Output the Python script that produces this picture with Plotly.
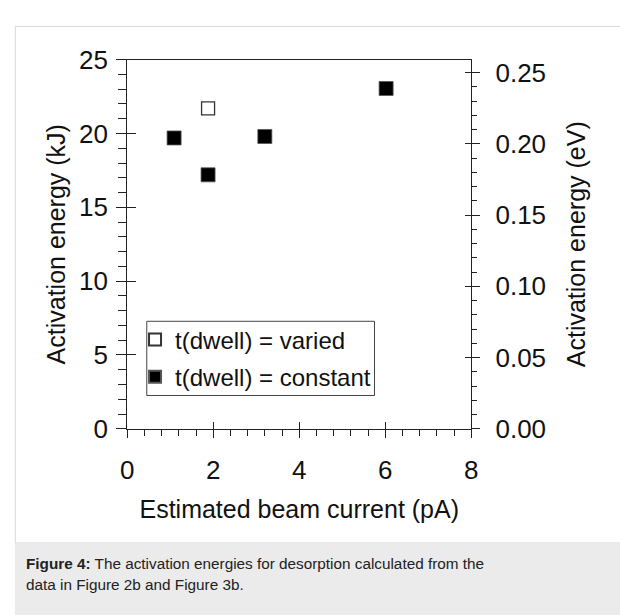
import plotly.graph_objects as go

# ---- data ----
varied_current = [1.88]
varied_energy = [21.7]
constant_current = [1.09, 1.88, 3.2, 6.02]
constant_energy = [19.7, 17.2, 19.8, 23.05]

x_ticks = [0, 2, 4, 6, 8]
left_ticks = [0, 5, 10, 15, 20, 25]
right_ticks = [0.00, 0.05, 0.10, 0.15, 0.20, 0.25]

W, H = 620, 615
KJ_PER_EV = 96.485
FONT = "Liberation Sans, Arial, sans-serif"
AX = "#222222"
TXT = "#111111"

L, R, T, B = 123, 475, 47, 435
xd = [L / W, R / W]
yd = [(H - B) / H, (H - T) / H]


def px(v):
    return v / W


def py(v):
    return (H - v) / H


fig = go.Figure()
fig.add_trace(go.Scatter(
    x=varied_current, y=varied_energy, mode="markers", name="t(dwell) = varied",
    legendgroup="a",
    marker=dict(symbol="square", size=13, color="white", line=dict(color="#333333", width=1.3)),
))
fig.add_trace(go.Scatter(
    x=constant_current, y=constant_energy, mode="markers", name="t(dwell) = constant",
    legendgroup="b",
    marker=dict(symbol="square", size=14, color="black", line=dict(color="#555555", width=0.8)),
))
# empty helpers so the tick-only overlay axes render
fig.add_trace(go.Scatter(x=[], y=[], xaxis="x2", yaxis="y3", showlegend=False))
fig.add_trace(go.Scatter(x=[], y=[], xaxis="x", yaxis="y2", showlegend=False))
fig.add_trace(go.Scatter(x=[], y=[], xaxis="x", yaxis="y4", showlegend=False))

tickfont = dict(family=FONT, size=26, color=TXT)
titlefont = dict(family=FONT, size=25, color=TXT)
common = dict(showgrid=False, zeroline=False, tickwidth=1, tickcolor=AX)

fig.update_layout(
    width=W, height=H,
    margin=dict(l=0, r=0, t=0, b=0),
    paper_bgcolor="white", plot_bgcolor="white",
    font=dict(family=FONT, color=TXT),
    xaxis=dict(domain=xd, range=[0, 8], tickvals=x_ticks, ticks="outside", ticklen=8,
               ticklabelstandoff=10,
               showline=True, linecolor=AX, linewidth=1, mirror=True,
               minor=dict(dtick=0.4, ticks="outside", ticklen=6, tickcolor=AX, tickwidth=1),
               tickfont=tickfont, anchor="y",
               title=dict(text="Estimated beam current (pA)", font=titlefont, standoff=16),
               **common),
    xaxis2=dict(domain=xd, range=[0, 8], overlaying="x", anchor="y", tickvals=x_ticks,
                ticks="inside", ticklen=7, showticklabels=False, showline=False, **common),
    yaxis=dict(domain=yd, range=[0, 25], tickvals=left_ticks, ticks="outside", ticklen=10,
               ticklabelstandoff=3,
               showline=True, linecolor=AX, linewidth=1, anchor="x",
               minor=dict(dtick=1, ticks="outside", ticklen=8, tickcolor=AX, tickwidth=1),
               tickfont=tickfont,
               title=dict(text="Activation energy (kJ)", font=titlefont, standoff=6),
               **common),
    yaxis3=dict(domain=yd, range=[0, 25], overlaying="y", anchor="x", side="left", tickvals=left_ticks,
                ticks="inside", ticklen=9, showticklabels=False, showline=False, **common),
    yaxis2=dict(domain=yd, range=[0, 25 / KJ_PER_EV], overlaying="y", anchor="x", side="right",
                tickvals=right_ticks, tickformat=".2f", ticks="outside", ticklen=8,
                ticklabelstandoff=10,
                showline=True, linecolor=AX, linewidth=1,
                minor=dict(dtick=0.01, ticks="outside", ticklen=5, tickcolor=AX, tickwidth=1),
                tickfont=tickfont,
                title=dict(text="Activation energy (eV)", font=titlefont, standoff=22),
                **common),
    yaxis4=dict(domain=yd, range=[0, 25 / KJ_PER_EV], overlaying="y", anchor="x", side="right",
                tickvals=right_ticks, ticks="inside", ticklen=6, showticklabels=False, showline=False,
                **common),
    legend=dict(x=px(131), y=py(318), xanchor="left", yanchor="top",
                borderwidth=0, bgcolor="rgba(0,0,0,0)",
                font=dict(family=FONT, size=24, color=TXT),
                tracegroupgap=3, itemsizing="constant"),
    showlegend=True,
    shapes=[
        # page frame
        dict(type="rect", xref="paper", yref="paper", x0=px(8.5), x1=1.05, y0=py(555), y1=py(12),
             line=dict(color="#d9d9d9", width=1), fillcolor="white", layer="below"),
        # caption band
        dict(type="rect", xref="paper", yref="paper", x0=px(8), x1=1.05, y0=-0.05, y1=py(555),
             line=dict(width=0), fillcolor="#ebebeb", layer="below"),
        # legend frame
        dict(type="rect", xref="paper", yref="paper", x0=px(143), x1=px(376), y0=py(400), y1=py(322),
             line=dict(color="#444444", width=1), fillcolor="white", layer="below"),
    ],
    annotations=[
        dict(xref="paper", yref="paper", x=px(17), y=py(577), xanchor="left", yanchor="middle",
             showarrow=False, align="left",
             text="<b>Figure 4:</b> The activation energies for desorption calculated from the",
             font=dict(family=FONT, size=15.3, color="#222222")),
        dict(xref="paper", yref="paper", x=px(17), y=py(599), xanchor="left", yanchor="middle",
             showarrow=False, align="left",
             text="data in Figure 2b and Figure 3b.",
             font=dict(family=FONT, size=15.3, color="#222222")),
    ],
)

fig.write_html("out.html")
